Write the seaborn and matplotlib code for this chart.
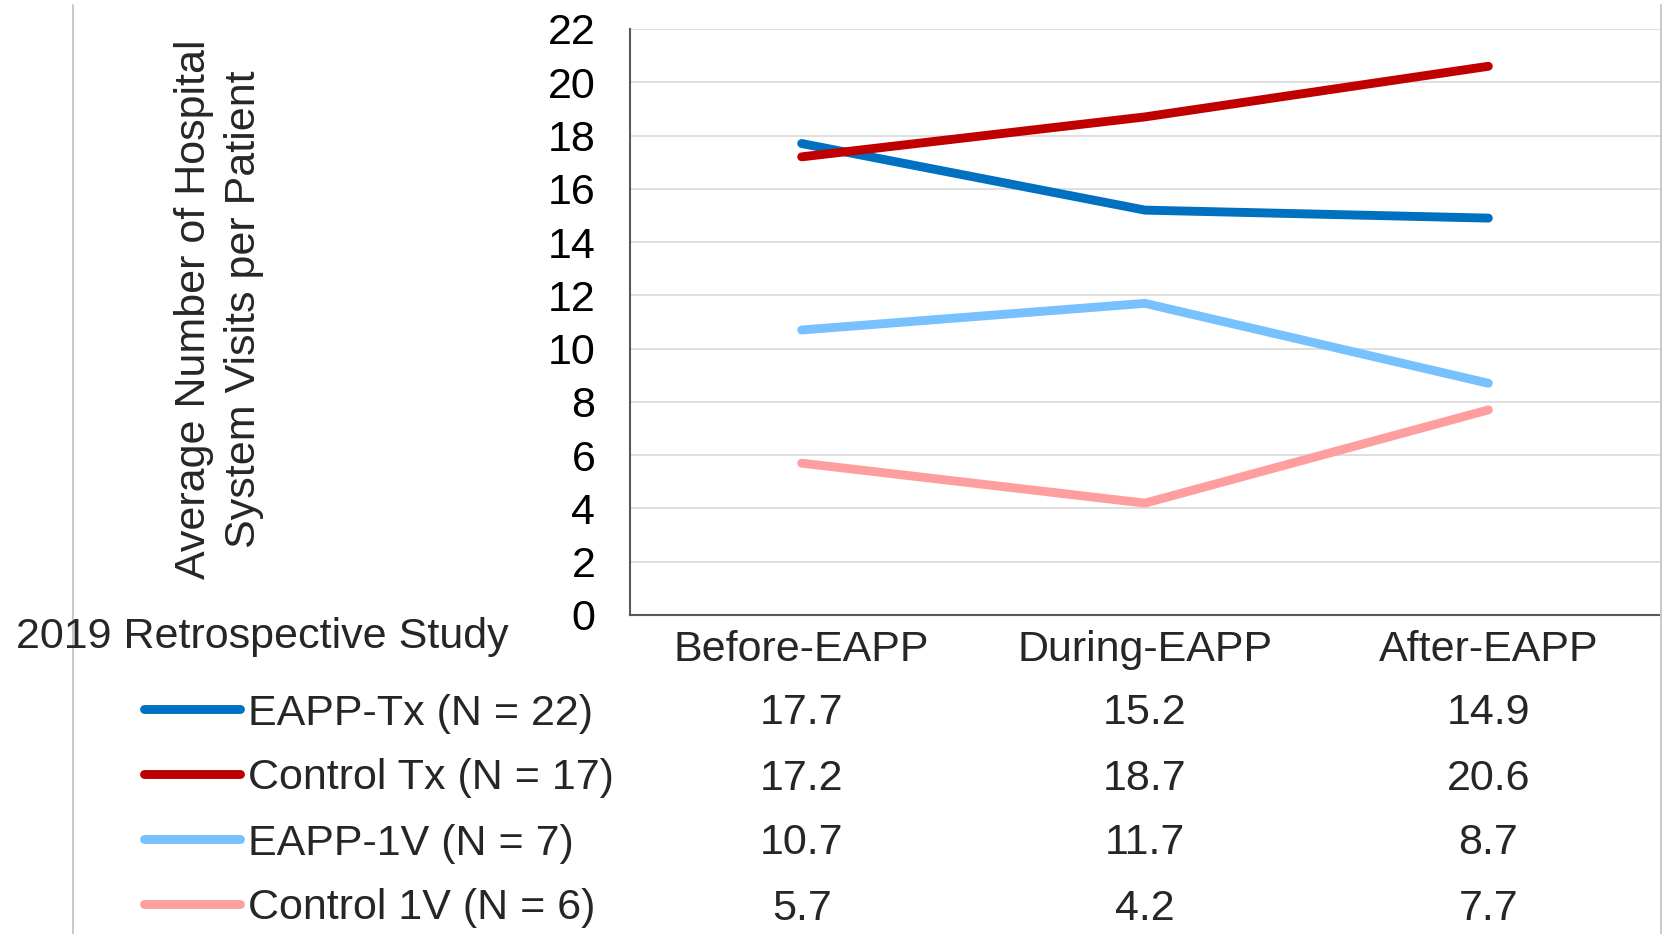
import matplotlib
matplotlib.use("Agg")
import matplotlib.pyplot as plt
from matplotlib.lines import Line2D
from matplotlib.transforms import blended_transform_factory
import seaborn as sns
import pandas as pd

# Study periods and group averages (visits per patient)
periods = ["Before-EAPP", "During-EAPP", "After-EAPP"]
groups = ["EAPP-Tx (N = 22)", "Control Tx (N = 17)", "EAPP-1V (N = 7)", "Control 1V (N = 6)"]
eapp_tx = [17.7, 15.2, 14.9]
control_tx = [17.2, 18.7, 20.6]
eapp_1v = [10.7, 11.7, 8.7]
control_1v = [5.7, 4.2, 7.7]
y_ticks = list(range(0, 23, 2))
colors = ["#0070C0", "#C00000", "#78C1FF", "#FF9E9E"]

series = [eapp_tx, control_tx, eapp_1v, control_1v]
rows = []
for g, vals in zip(groups, series):
    for p, v in zip(periods, vals):
        rows.append({"Period": p, "Group": g, "Visits": v})
df = pd.DataFrame(rows)

sns.set_style("white")
plt.rcParams["font.family"] = ["Liberation Sans", "DejaVu Sans"]
FS = 31

W, H = 1671, 934
fig = plt.figure(figsize=(W / 100, H / 100), dpi=100)
ax = fig.add_axes([630 / W, 1 - 615 / H, (1660 - 630) / W, (615 - 29) / H])

sns.lineplot(data=df, x="Period", y="Visits", hue="Group", hue_order=groups,
             palette=colors, sort=False, linewidth=6.4, legend=False, ax=ax)
for ln in ax.get_lines():
    ln.set_solid_capstyle("round")
    ln.set_solid_joinstyle("round")

ax.set_xlim(-0.5, 2.5)
ax.set_ylim(0, 22)
ax.set_yticks(y_ticks)
ax.set_yticklabels([str(t) for t in y_ticks], fontsize=FS)
ax.set_xticks(range(len(periods)))
ax.set_xticklabels([])
ax.tick_params(axis="x", length=0)
ax.tick_params(axis="y", length=9, width=1.3, color="#595959", pad=16, labelcolor="black")
ax.grid(axis="y", color="#D9D9D9", linewidth=1.2)
ax.set_axisbelow(True)
ax.set_xlabel("")
ax.set_ylabel("")
for side in ["top", "right"]:
    ax.spines[side].set_visible(False)
for side in ["left", "bottom"]:
    ax.spines[side].set_color("#595959")
    ax.spines[side].set_linewidth(1.5)

# y axis title
fig.text(219 / W, 1 - 309 / H, "Average Number of Hospital\nSystem Visits per Patient",
         rotation=90, ha="center", va="center", fontsize=FS, linespacing=1.32,
         multialignment="center")

# data table below the chart
tr = blended_transform_factory(ax.transData, fig.transFigure)
for i, p in enumerate(periods):
    ax.text(i, 1 - 661 / H, p, transform=tr, ha="center", va="baseline", fontsize=FS)

fig.text(16 / W, 1 - 648 / H, "2019 Retrospective Study", ha="left", va="baseline",
         fontsize=FS)

row_centers = [709, 774, 839, 904]
for g, vals, c, yc in zip(groups, series, colors, row_centers):
    yf = 1 - yc / H
    fig.add_artist(Line2D([144 / W, 240 / W], [yf, yf], transform=fig.transFigure,
                          color=c, linewidth=6.4, solid_capstyle="round"))
    fig.text(248 / W, 1 - (yc + 15.5) / H, g, ha="left", va="baseline", fontsize=FS)
    for i, v in enumerate(vals):
        ax.text(i, 1 - (yc + 15.5) / H, f"{v:.1f}", transform=tr, ha="center",
                va="baseline", fontsize=FS)

# thin table borders
for xb in (73, 1661):
    fig.add_artist(Line2D([xb / W, xb / W], [0, 1 - 5 / H], transform=fig.transFigure,
                          color="#C8C8C8", linewidth=1.4))

fig.savefig("out.png", dpi=100)
